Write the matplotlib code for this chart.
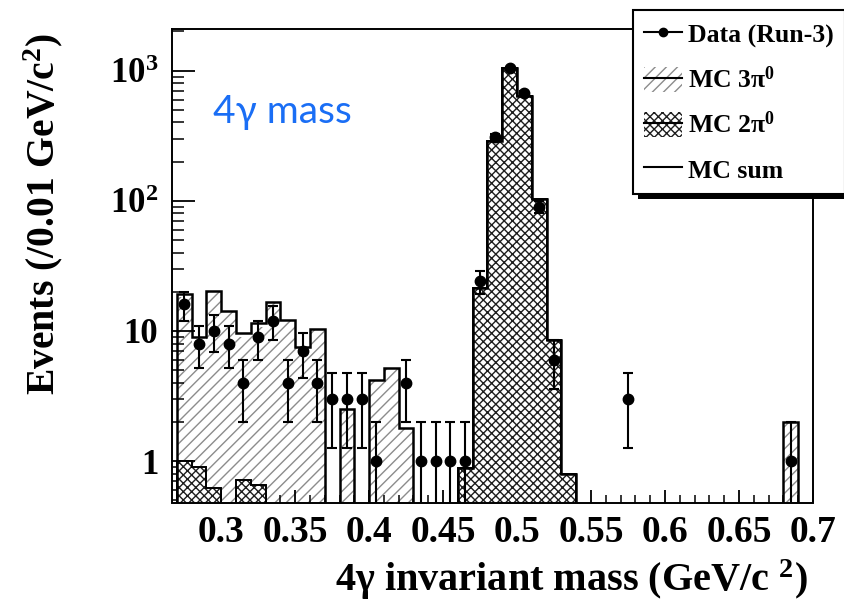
import numpy as np
import matplotlib
matplotlib.use('Agg')
import matplotlib.pyplot as plt
from matplotlib.patches import Patch, Rectangle
from matplotlib.lines import Line2D
from matplotlib.transforms import IdentityTransform
from matplotlib.ticker import MultipleLocator, LogLocator, FuncFormatter, NullFormatter

plt.rcParams['font.family'] = ['Liberation Serif', 'DejaVu Serif']
plt.rcParams['font.weight'] = 'bold'
plt.rcParams['mathtext.fontset'] = 'custom'
plt.rcParams['mathtext.rm'] = 'Liberation Serif:bold'
plt.rcParams['mathtext.bf'] = 'Liberation Serif:bold'
plt.rcParams['mathtext.it'] = 'Liberation Serif:bold'
plt.rcParams['mathtext.default'] = 'rm'
plt.rcParams['hatch.linewidth'] = 1.0

# ---- data (bin width 0.01 GeV/c^2, lower edges 0.27 ... 0.68) ----
bin_edges = np.round(np.linspace(0.27, 0.69, 43), 2)

data_counts = [16, 8, 10, 8, 4, 9, 12, 4, 7, 4,
               3, 3, 3, 1, 0, 4, 1, 1, 1, 1,
               24, 310, 1040, 670, 90, 6, 0, 0, 0, 0,
               3, 0, 0, 0, 0, 0, 0, 0, 0, 0,
               0, 1]

mc_3pi0 = [18.2, 8.0, 19.8, 14.3, 8.9, 10.8, 16.6, 12.1, 7.5, 10.4,
           0, 2.5, 0, 4.2, 5.2, 1.8, 0, 0, 0, 0,
           0, 0, 0, 0, 0, 0, 0, 0, 0, 0,
           0, 0, 0, 0, 0, 0, 0, 0, 0, 0,
           0, 2.0]

mc_2pi0 = [1.0, 0.9, 0.62, 0, 0.71, 0.65, 0, 0, 0, 0,
           0, 0, 0, 0, 0, 0, 0, 0, 0, 0.88,
           21.3, 290, 1040, 640, 103, 8.5, 0.79, 0, 0, 0,
           0, 0, 0, 0, 0, 0, 0, 0, 0, 0,
           0, 0]

legend_labels = ['Data (Run-3)', 'MC 3π$^{0}$', 'MC 2π$^{0}$', 'MC sum']

# ---- derived ----
data_counts = np.array(data_counts, float)
mc_3pi0 = np.array(mc_3pi0, float)
mc_2pi0 = np.array(mc_2pi0, float)
mc_sum = mc_3pi0 + mc_2pi0
centers = 0.5 * (bin_edges[:-1] + bin_edges[1:])
widths = np.diff(bin_edges)
FLOOR = 1e-3

HATCH3 = '///'
HATCH2 = 'xxxx'
C3 = '#8c8c8c'
C2 = '#1e1e1e'

W, H = 845, 606
fig = plt.figure(figsize=(W / 100, H / 100), dpi=100)
ax = fig.add_axes([172 / W, 1 - 502.5 / H, 641 / W, 473.5 / H])
ax.set_yscale('log')

# MC 3pi0 (hatched)
ax.bar(bin_edges[:-1], mc_3pi0, width=widths, align='edge', facecolor='none',
       edgecolor=C3, hatch=HATCH3, linewidth=0, zorder=1)
# MC 2pi0 (checkered)
ax.bar(bin_edges[:-1], mc_2pi0, width=widths, align='edge', facecolor='white',
       edgecolor=C2, hatch=HATCH2, linewidth=0, zorder=2)
ax.stairs(np.where(mc_2pi0 > 0, mc_2pi0, FLOOR), bin_edges, baseline=FLOOR,
          color='k', linewidth=1.4, zorder=3)
# MC sum outline
ax.stairs(np.where(mc_sum > 0, mc_sum, FLOOR), bin_edges, baseline=FLOOR,
          color='k', linewidth=1.8, zorder=4)

# data
m = data_counts > 0
ax.errorbar(centers[m], data_counts[m], yerr=np.sqrt(data_counts[m]), fmt='o',
            color='k', ms=7.5, capsize=3.5, elinewidth=1.5, capthick=1.5, zorder=5)

ax.set_xlim(0.2668, 0.70)
ax.set_ylim(0.48, 2090)

ax.xaxis.set_major_locator(MultipleLocator(0.05))
ax.xaxis.set_minor_locator(MultipleLocator(0.01))
ax.xaxis.set_major_formatter(FuncFormatter(lambda v, p: f'{round(v, 2):g}'))
ax.yaxis.set_major_locator(LogLocator(base=10))
ax.yaxis.set_minor_locator(LogLocator(base=10, subs=np.arange(2, 10)))
ax.yaxis.set_minor_formatter(NullFormatter())

def yfmt(v, p):
    e = int(round(np.log10(v)))
    if e == 0:
        return '1'
    if e == 1:
        return '10'
    return '$10^{%d}$' % e
ax.yaxis.set_major_formatter(FuncFormatter(yfmt))

ax.tick_params(axis='x', which='major', direction='in', length=9.5, width=1.3,
               labelsize=27, pad=9)
ax.tick_params(axis='x', which='minor', direction='in', length=5.5, width=1.1)
ax.tick_params(axis='y', which='major', direction='in', length=16.5, width=1.3,
               labelsize=25, pad=10)
ax.tick_params(axis='y', which='minor', direction='in', length=8.5, width=1.1)
for s in ax.spines.values():
    s.set_linewidth(1.4)

fig.text(43 / W, 1 - 214 / H, 'Events (/0.01 GeV/c$^{2}$)', rotation=90,
         ha='center', va='center', fontsize=28.5)
fig.text(571 / W, 1 - 580 / H, '4γ invariant mass (GeV/c $^{2}$)',
         ha='center', va='center', fontsize=29)

ax.text(0.064, 0.8015, '4γ mass', transform=ax.transAxes, color='#1a6ef5',
        fontsize=28, fontweight='normal', family=['Lato', 'DejaVu Sans'],
        va='baseline', ha='left')

# legend
h_data = Line2D([], [], color='k', marker='o', ms=6, lw=1.5)
h_3 = (Patch(facecolor='none', edgecolor=C3, hatch=HATCH3, lw=0),
       Line2D([], [], color='k', lw=1.5))
h_2 = (Patch(facecolor='white', edgecolor=C2, hatch=HATCH2, lw=0),
       Line2D([], [], color='k', lw=1.5))
h_sum = Line2D([], [], color='k', lw=1.5)
leg = fig.legend([h_data, h_3, h_2, h_sum], legend_labels, loc='upper left',
                 bbox_to_anchor=(632.7 / W, 1 - 10 / H), bbox_transform=fig.transFigure,
                 fontsize=18.5, frameon=True, fancybox=False, edgecolor='k',
                 framealpha=1, handlelength=1.45, handleheight=1.1,
                 handletextpad=0.25, labelspacing=0.72, borderpad=0.45,
                 borderaxespad=0)
leg.get_frame().set_linewidth(1.5)
leg.set_zorder(10)

fig.canvas.draw()
bb = leg.get_window_extent()
fig.add_artist(Rectangle((bb.x0 + 5, bb.y0 - 5), bb.width, bb.height,
                         transform=IdentityTransform(), facecolor='k',
                         edgecolor='none', zorder=9))

fig.savefig('out.png', dpi=100)
